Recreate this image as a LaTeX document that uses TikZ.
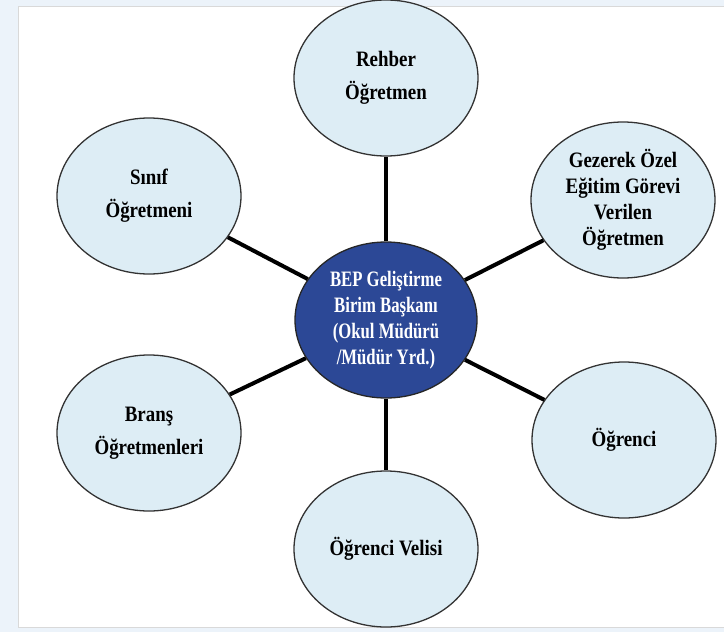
\documentclass[tikz,border=0pt]{standalone}
\usepackage{fontspec}
\setmainfont{Liberation Serif}
\newfontfamily\darharf[FakeStretch=0.86]{Liberation Serif}
\newfontfamily\cokdarharf[FakeStretch=0.76]{Liberation Serif}
\usetikzlibrary{shapes.geometric}
\definecolor{cevre}{RGB}{221,237,245}
\definecolor{merkezmavi}{RGB}{44,72,150}
\definecolor{zemin}{RGB}{236,243,250}
\begin{document}
\begin{tikzpicture}[x=1pt,y=-1pt,
    uye/.style={ellipse,draw=black!80,line width=1.3pt,fill=cevre,
      minimum width=184pt,minimum height=156pt,inner sep=0pt,align=center,
      font=\darharf\fontsize{22}{33}\selectfont\bfseries},
    baskan/.style={uye,fill=merkezmavi,draw=black!85,text=white,
      minimum width=182pt,font=\cokdarharf\fontsize{22}{26}\selectfont\bfseries}]
      % zemin
      \useasboundingbox (0,0) rectangle (724,632);
      \fill[zemin] (0,0) rectangle (724,632);
      \fill[white,draw=black!15,line width=0.6pt] (18,6) rectangle (724,627);
      \draw
        (386,320) node[baskan] (merkez){BEP Geliştirme\\Birim Başkanı\\(Okul Müdürü\\/Müdür Yrd.)}
        (386,78) node[uye] (rehber){Rehber\\Öğretmen}
        (623,200) node[uye,font=\darharf\fontsize{22}{26}\selectfont\bfseries] (gezerek){Gezerek Özel\\Eğitim Görevi\\Verilen\\Öğretmen}
        (624,440) node[uye] (ogrenci){Öğrenci}
        (386,549) node[uye] (veli){Öğrenci Velisi}
        (149,433) node[uye] (brans){Branş\\Öğretmenleri}
        (149,196) node[uye] (sinif){Sınıf\\Öğretmeni};
      \begin{scope}[-,line width=4pt]
        \draw (merkez) to (rehber);
        \draw (merkez) to (gezerek);
        \draw (merkez) to (ogrenci);
        \draw (merkez) to (veli);
        \draw (merkez) to (brans);
        \draw (merkez) to (sinif);
      \end{scope}
    \end{tikzpicture}
\end{document}
